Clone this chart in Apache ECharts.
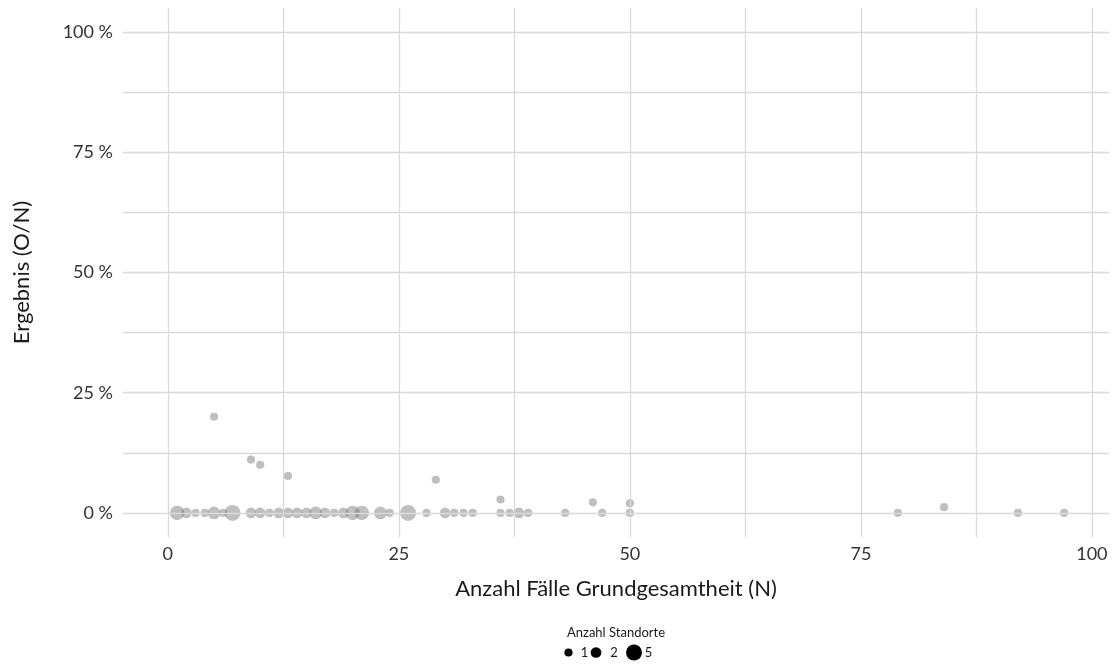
<!DOCTYPE html>
<html>
<head>
<meta charset="utf-8">
<script src="https://cdn.jsdelivr.net/npm/echarts@6/dist/echarts.min.js"></script>
<style>html,body{margin:0;padding:0;background:#fff}#c{width:1115px;height:664px}</style>
</head>
<body>
<div id="c"></div>
<script>
// Anzahl Fälle Grundgesamtheit (N)
const caseCounts = [1,2,3,4,5,5,6,7,9,9,10,10,11,12,13,13,14,15,16,17,18,19,20,21,23,24,26,28,29,30,31,32,33,36,36,37,38,39,43,46,47,50,50,79,84,92,97];
// Ergebnis (O/N) in %
const resultPct = [0,0,0,0,0,20,0,0,0,11.1,0,10,0,0,0,7.7,0,0,0,0,0,0,0,0,0,0,0,0,6.9,0,0,0,0,0,2.8,0,0,0,0,2.2,0,0,2,0,1.2,0,0];
// Anzahl Standorte
const siteCounts = [4,2,1,1,3,1,1,5,2,1,2,1,1,2,2,1,2,2,3,2,1,2,4,4,3,1,5,1,1,2,1,1,1,1,1,1,2,1,1,1,1,1,1,1,1,1,1];
const xTicks = [0,25,50,75,100];
const yTicks = [0,25,50,75,100];
const gridX = [0,12.5,25,37.5,50,62.5,75,87.5,100];
const gridY = [0,12.5,25,37.5,50,62.5,75,87.5,100];
const legendSizes = [1,2,5];

const FONT = 'Lato';
function sizeOf(n){ return Math.sqrt(20 + 47*n); }

const points = caseCounts.map((x,i)=>[x, resultPct[i], siteCounts[i]]);
const gridColor = '#dadada';

const chart = echarts.init(document.getElementById('c'), null, {renderer:'canvas'});

const legendGraphics = [
  {type:'text', style:{text:'Anzahl Standorte', x:616, y:633, textAlign:'center', textVerticalAlign:'middle', font:'13px '+FONT, fill:'#1a1a1a'}}
];
const legendX = [568.5, 596, 634];
const legendLabelX = [584.5, 614, 648.5];
legendSizes.forEach((s,i)=>{
  legendGraphics.push({type:'circle', shape:{cx:legendX[i], cy:652.5, r:sizeOf(s)/2}, style:{fill:'#000'}});
  legendGraphics.push({type:'text', style:{text:String(s), x:legendLabelX[i], y:652.5, textAlign:'center', textVerticalAlign:'middle', font:'13px '+FONT, fill:'#1a1a1a'}});
});

chart.setOption({
  animation:false,
  backgroundColor:'#fff',
  textStyle:{fontFamily:FONT},
  grid:{left:123, right:6, top:8, bottom:127, containLabel:false},
  xAxis:{
    type:'value', min:-4.85, max:101.85,
    name:'Anzahl Fälle Grundgesamtheit (N)', nameLocation:'middle', nameGap:41,
    nameTextStyle:{fontSize:22, color:'#1a1a1a', fontFamily:FONT},
    axisLine:{show:false}, axisTick:{show:false}, splitLine:{show:false},
    axisLabel:{customValues:xTicks, fontSize:18, color:'#333', margin:8, fontFamily:FONT}
  },
  yAxis:{
    type:'value', min:-5, max:105,
    name:'Ergebnis (O/N)', nameLocation:'middle', nameGap:90, nameRotate:90,
    nameTextStyle:{fontSize:22, color:'#1a1a1a', fontFamily:FONT},
    axisLine:{show:false}, axisTick:{show:false}, splitLine:{show:false},
    axisLabel:{customValues:yTicks, fontSize:18, color:'#333', margin:10, fontFamily:FONT, formatter:v=>v+' %'}
  },
  series:[
    {
      type:'line', data:[], z:1, silent:true,
      markLine:{
        silent:true, symbol:'none', animation:false,
        label:{show:false},
        lineStyle:{color:gridColor, width:1.3, type:'solid'},
        emphasis:{disabled:true},
        data: gridX.map(v=>({xAxis:v})).concat(gridY.map(v=>({yAxis:v})))
      }
    },
    {
      type:'scatter', z:3,
      data:points,
      symbolSize:d=>sizeOf(d[2]),
      itemStyle:{color:'rgba(110,110,110,0.55)'}
    }
  ],
  graphic:legendGraphics
});
</script>
</body>
</html>
